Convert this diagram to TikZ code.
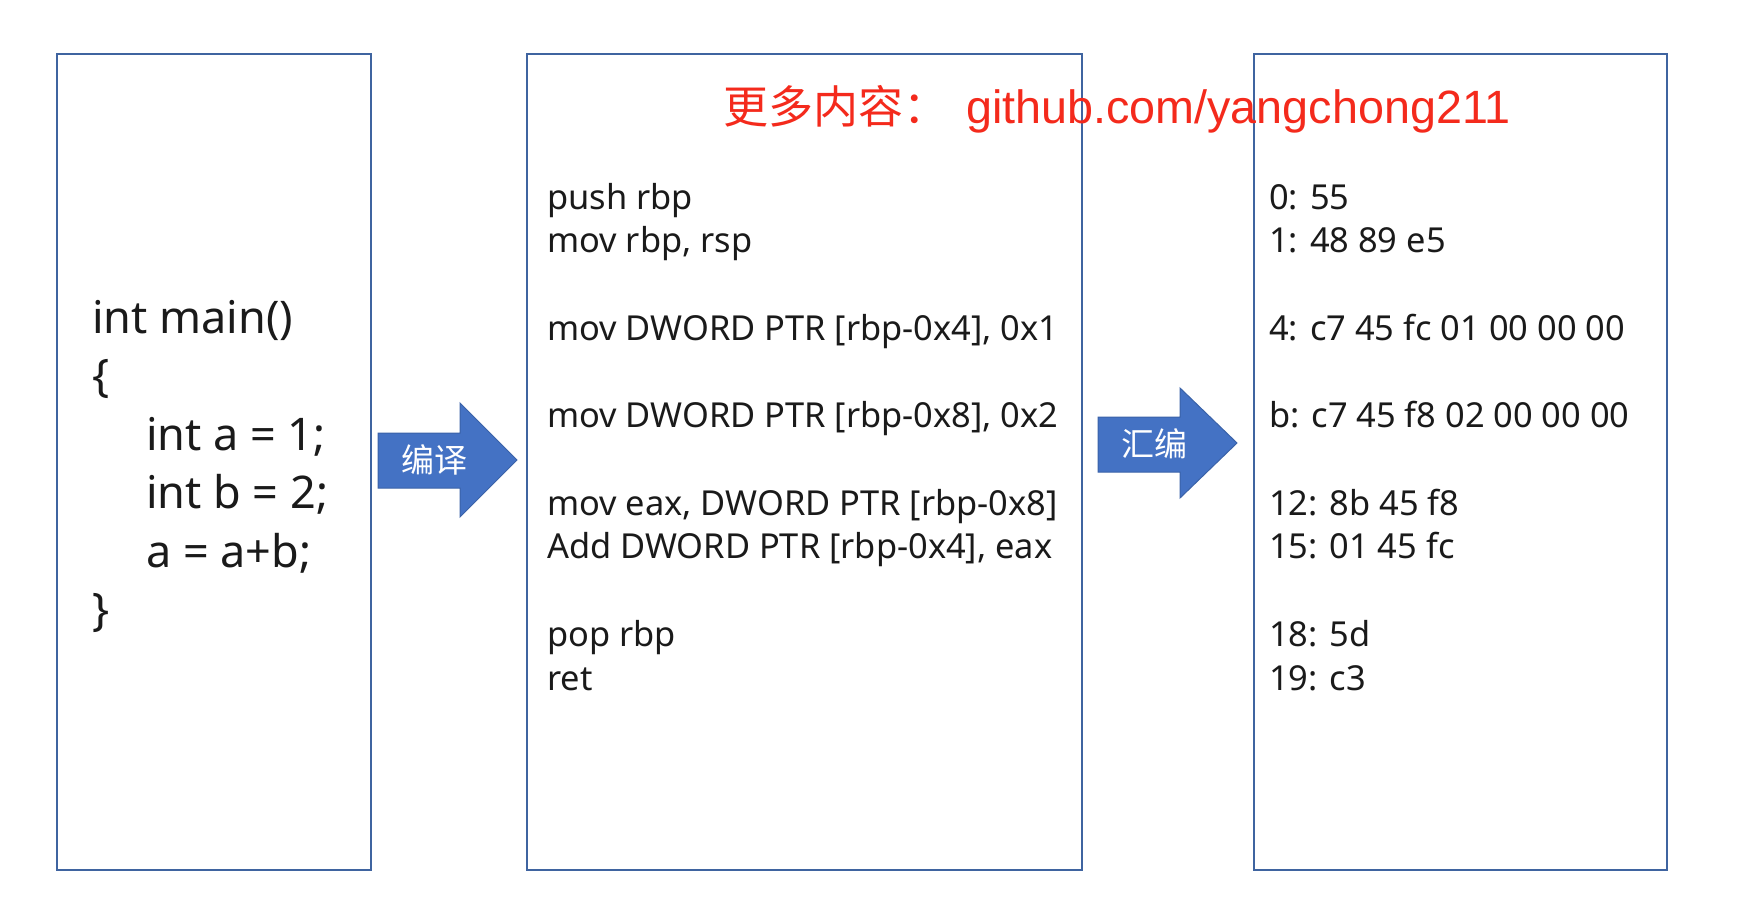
\documentclass[tikz,border=0pt]{standalone}
\usepackage{fontspec}
\setmainfont{Noto Sans}
\newfontfamily\cjk{Noto Sans CJK SC}
\newfontfamily\arialf{Liberation Sans}
\definecolor{boxblue}{HTML}{3F64A0}
\definecolor{arrowfill}{HTML}{4472C4}
\definecolor{arrowline}{HTML}{3A62A8}
\definecolor{redtxt}{HTML}{F42A1C}
\definecolor{txt}{HTML}{1A1A1A}
\begin{document}
\begin{tikzpicture}[x=1pt,y=-1pt,
  panel/.style={draw=boxblue, line width=2.2pt, anchor=north west, inner sep=0pt},
  arrowshape/.style={fill=arrowfill, draw=arrowline, line width=1pt},
  arrowlabel/.style={text=white, font=\cjk\fontsize{33}{33}\selectfont, inner sep=0pt},
  codeL/.style={anchor=base west, inner sep=0pt, text=txt, font=\fontsize{45}{45}\selectfont},
  codeM/.style={anchor=base west, inner sep=0pt, text=txt, font=\fontsize{34.4}{34.4}\selectfont},
]
\useasboundingbox (0,0) rectangle (1758,910);
\fill[white] (0,0) rectangle (1758,910);

% panels
\node[panel, minimum width=314pt, minimum height=816pt] (p1) at (56,53) {};
\node[panel, minimum width=555pt, minimum height=816pt] (p2) at (526,53) {};
\node[panel, minimum width=413pt, minimum height=816pt] (p3) at (1253,53) {};

% arrows
\draw[arrowshape] (378,433) -- (460,433) -- (460,403) -- (517,460) -- (460,517) -- (460,488) -- (378,488) -- cycle;
\node[arrowlabel] (a1) at (434,460) {编译};
\draw[arrowshape] (1098,417) -- (1180,417) -- (1180,388) -- (1237,443) -- (1180,498) -- (1180,472) -- (1098,472) -- cycle;
\node[arrowlabel] (a2) at (1154,444) {汇编};

% red banner
\node[anchor=base west, inner sep=0pt, text=redtxt, font=\cjk\fontsize{45}{45}\selectfont] (banner1) at (723,123) {更多内容：};
\node[anchor=base west, inner sep=0pt, text=redtxt, font=\arialf\fontsize{46.7}{46.7}\selectfont] (banner2) at (966,123) {github.com/yangchong211};

% left code
\node[codeL] (l0) at (92,333) {int main()};
\node[codeL] (l1) at (92,391.5) {\{};
\node[codeL] (l2) at (146,450) {int a = 1;};
\node[codeL] (l3) at (146,508.5) {int b = 2;};
\node[codeL] (l4) at (146,567) {a = a+b;};
\node[codeL] (l5) at (92,625.5) {\}};

% middle asm
\node[codeM] (m0) at (547,209) {push rbp};
\node[codeM] (m1) at (547,252.7) {mov rbp, rsp};
\node[codeM] (m2) at (547,340.2) {mov DWORD PTR [rbp-0x4], 0x1};
\node[codeM] (m3) at (547,427.6) {mov DWORD PTR [rbp-0x8], 0x2};
\node[codeM] (m4) at (547,515.1) {mov eax, DWORD PTR [rbp-0x8]};
\node[codeM] (m5) at (547,558.8) {Add DWORD PTR [rbp-0x4], eax};
\node[codeM] (m6) at (547,646.3) {pop rbp};
\node[codeM] (m7) at (547,690.0) {ret};

% right bytes
\node[codeM] (r0) at (1269,209) {0: 55};
\node[codeM] (r1) at (1269,252.7) {1: 48 89 e5};
\node[codeM] (r2) at (1269,340.2) {4: c7 45 fc 01 00 00 00};
\node[codeM] (r3) at (1269,427.6) {b: c7 45 f8 02 00 00 00};
\node[codeM] (r4) at (1269,515.1) {12: 8b 45 f8};
\node[codeM] (r5) at (1269,558.8) {15: 01 45 fc};
\node[codeM] (r6) at (1269,646.3) {18: 5d};
\node[codeM] (r7) at (1269,690.0) {19: c3};
\end{tikzpicture}
\end{document}
